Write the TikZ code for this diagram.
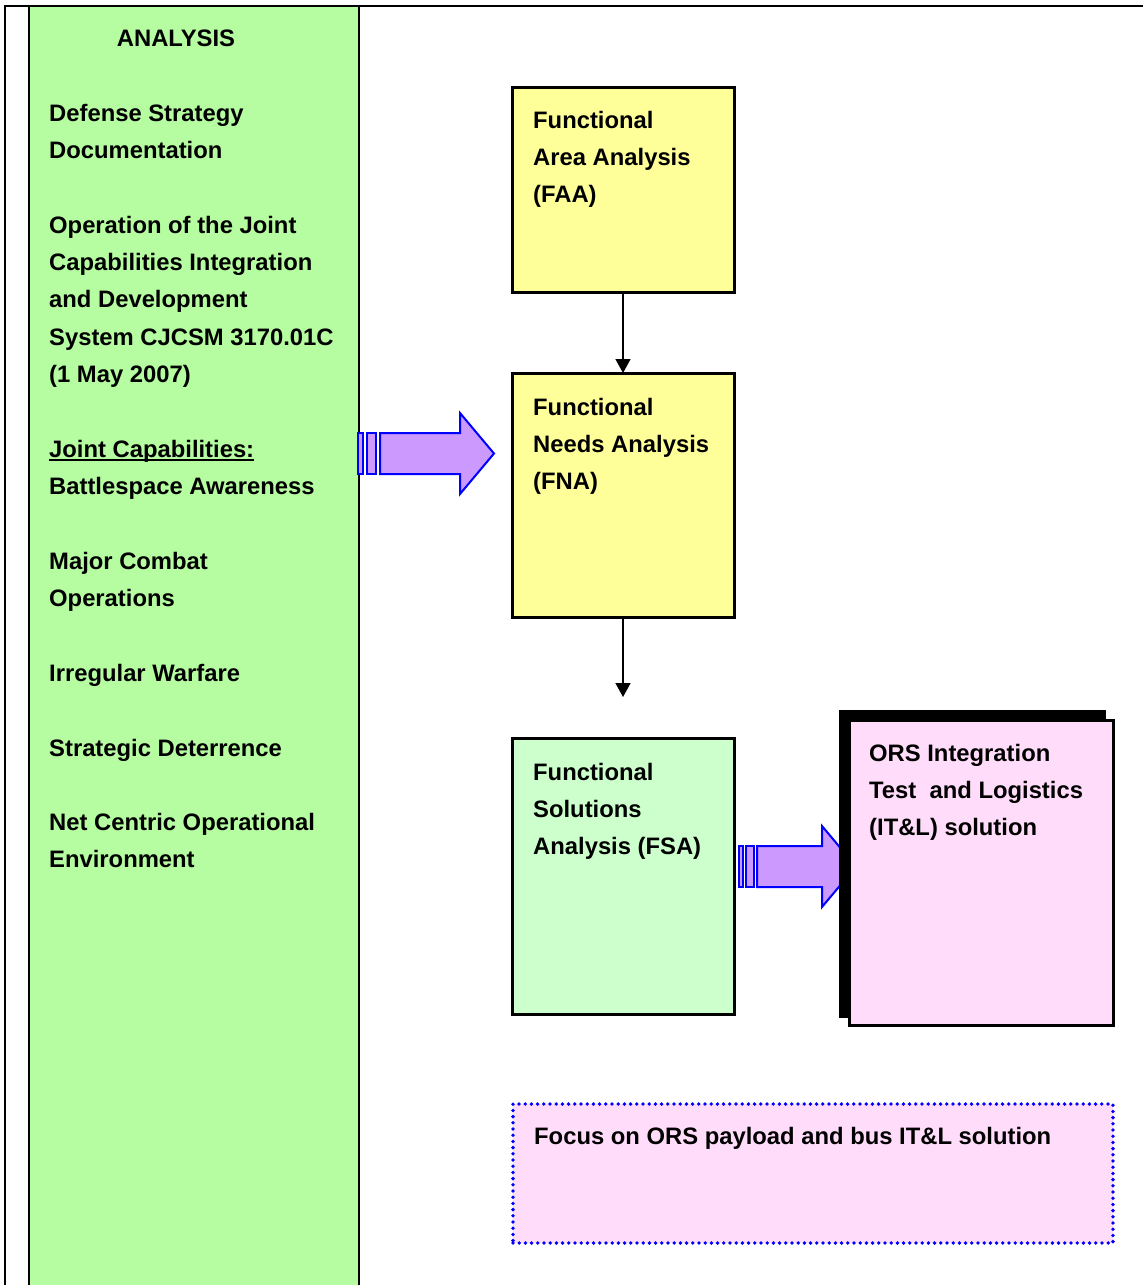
\documentclass[tikz,border=0pt]{standalone}
\usepackage{fontspec}
\setmainfont{Liberation Sans}
\usetikzlibrary{arrows.meta}

\definecolor{colgreen}{RGB}{182,252,161}
\definecolor{boxyellow}{RGB}{255,255,153}
\definecolor{boxgreen}{RGB}{204,255,204}
\definecolor{boxpink}{RGB}{255,221,250}
\definecolor{arrowviolet}{RGB}{204,153,255}
\definecolor{arrowblue}{RGB}{0,0,255}

% underline sitting just below the baseline
\newcommand\lineunder[1]{\setbox0\hbox{#1}\rlap{\rule[-3.5pt]{\wd0}{1.8pt}}\box0}

% multi-line labels are placed by the baseline of their last line
\tikzset{
  lbl/.style={inner sep=0pt, anchor=base west, align=left,
    font=\fontsize{23.8}{37.4}\selectfont\bfseries},
  stepbox/.style={draw=black, line width=3pt, anchor=north west, inner sep=0pt, outer sep=0pt},
  flow/.style={-{Triangle[length=14pt,width=15pt]}, line width=1.5pt},
  blockarrow/.style={fill=arrowviolet, draw=arrowblue, line width=2pt, line join=miter},
}

\begin{document}
\begin{tikzpicture}[x=1pt,y=-1pt]
\useasboundingbox (0,0) rectangle (1143,1285);

% page frame and the analysis column
\draw[line width=2.2pt] (5,1300) -- (5,6) -- (1160,6);
\node[draw=black, line width=2.2pt, fill=colgreen, anchor=north west, inner sep=0pt, outer sep=0pt,
      minimum width=330pt, minimum height=1320pt] (column) at (29,6) {};

% column texts
\node[lbl, anchor=base] (title) at (176,46) {ANALYSIS};
\node[lbl] (t1) at (49,158.4) {Defense Strategy\\Documentation};
\node[lbl] (t2) at (49,382.6) {Operation of the Joint\\Capabilities Integration\\and Development\\System CJCSM 3170.01C\\(1 May 2007)};
\node[lbl] (t3) at (49,494.4) {\lineunder{Joint Capabilities:}\\Battlespace Awareness};
\node[lbl] (t4) at (49,606.4) {Major Combat\\Operations};
\node[lbl] (t5) at (49,681) {Irregular Warfare};
\node[lbl] (t6) at (49,756) {Strategic Deterrence};
\node[lbl] (t7) at (49,867.4) {Net Centric Operational\\Environment};

% block arrow from the column into the analysis chain
\path[blockarrow] (358,433) rectangle (363,474);
\path[blockarrow] (367,433) rectangle (376,474);
\path[blockarrow] (380,433) -- (460,433) -- (460,413) -- (494,453.5)
  -- (460,494) -- (460,474) -- (380,474) -- cycle;

% analysis chain
\node[stepbox, fill=boxyellow, minimum width=222pt, minimum height=205pt] (faa) at (512,87) {};
\node[lbl] (faatext) at (533,202.8) {Functional\\Area Analysis\\(FAA)};

\node[stepbox, fill=boxyellow, minimum width=222pt, minimum height=244pt] (fna) at (512,373) {};
\node[lbl] (fnatext) at (533,489.8) {Functional\\Needs Analysis\\(FNA)};

\node[stepbox, fill=boxgreen, minimum width=222pt, minimum height=276pt] (fsa) at (512,738) {};
\node[lbl] (fsatext) at (533,854.8) {Functional\\Solutions\\Analysis (FSA)};

\coordinate (fnaout) at (623,697);
\draw[flow] (faa.south) -- (fna.north);
\draw[flow] (fna.south) -- (fnaout);

% block arrow towards the solution box
\path[blockarrow] (739,846) rectangle (743,887);
\path[blockarrow] (746,846) rectangle (754,887);
\path[blockarrow] (757,846) -- (822,846) -- (822,826) -- (856,866.5)
  -- (822,907) -- (822,887) -- (757,887) -- cycle;

% solution box with its offset shadow
\fill[black] (839,710) rectangle (1106,1018);
\node[stepbox, fill=boxpink, minimum width=264pt, minimum height=305pt] (ors) at (849,720) {};
\node[lbl] (orstext) at (869,835.8) {ORS Integration\\Test\ \ and Logistics\\(IT\&L) solution};

% focus note with a round-dotted border
\node[draw=arrowblue, line width=3.8pt, dash pattern=on 0pt off 6.2pt, line cap=round,
      fill=boxpink, anchor=north west, inner sep=0pt, outer sep=0pt,
      minimum width=600pt, minimum height=139pt] (focus) at (513,1104) {};
\node[lbl] (focustext) at (534,1144) {Focus on ORS payload and bus IT\&L solution};
\end{tikzpicture}
\end{document}
